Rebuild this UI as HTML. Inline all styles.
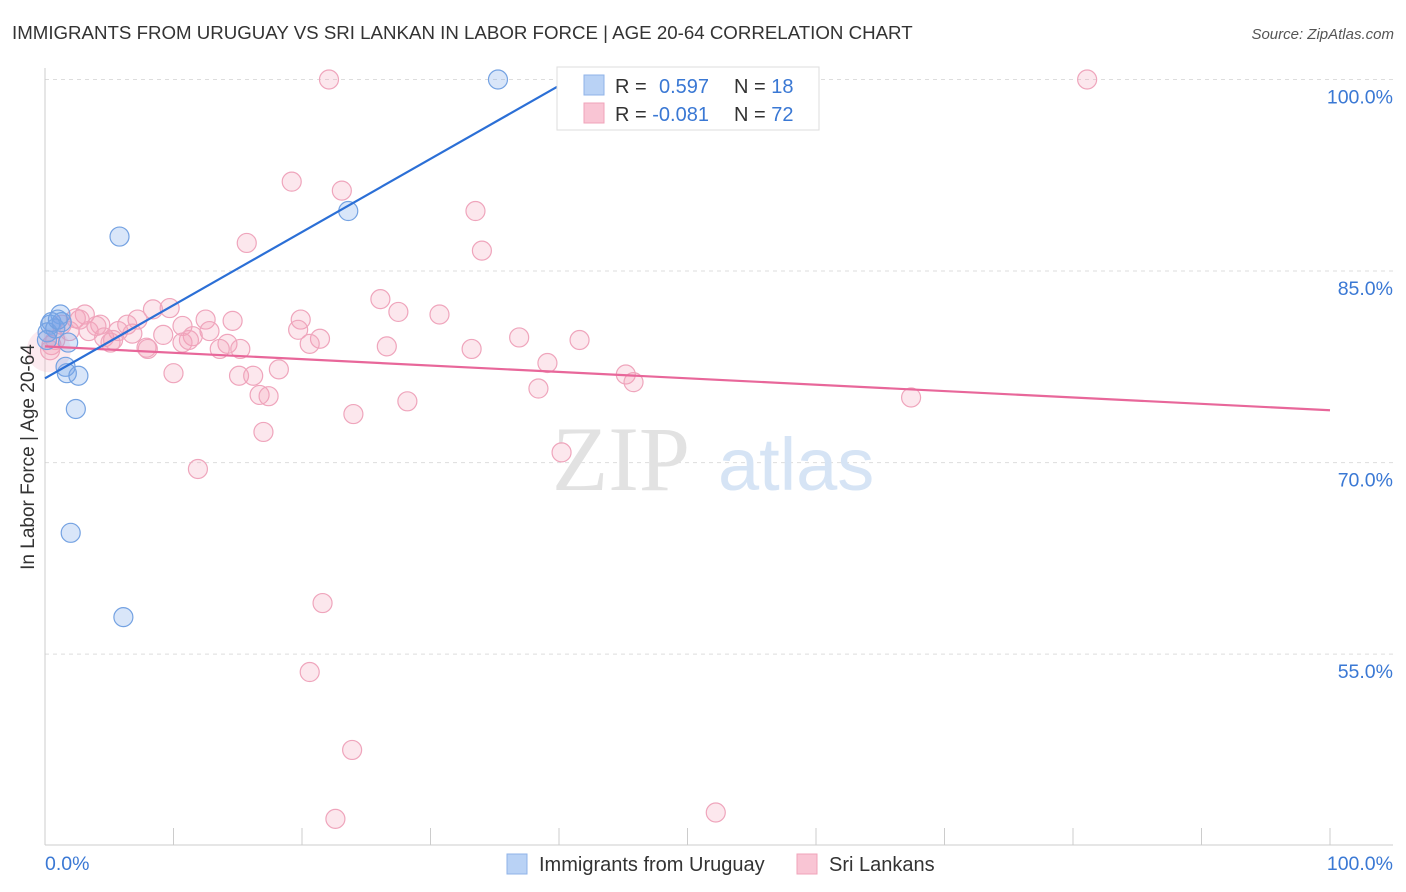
<!DOCTYPE html>
<html><head><meta charset="utf-8"><style>
body{margin:0;background:#fff;font-family:"Liberation Sans",sans-serif;}
svg{display:block}
</style></head><body>
<svg id="chart" width="1406" height="892" xmlns="http://www.w3.org/2000/svg">
<text x="12" y="39" font-size="18.7" fill="#333">IMMIGRANTS FROM URUGUAY VS SRI LANKAN IN LABOR FORCE | AGE 20-64 CORRELATION CHART</text>
<text x="1394" y="39" font-size="15" fill="#555" font-style="italic" text-anchor="end">Source: ZipAtlas.com</text>
<g id="grid"></g>
<text x="690" y="490" font-size="92" font-family="Liberation Serif,serif" fill="#e2e2e2" text-anchor="end">ZIP</text>
<text x="718" y="490" font-size="74" fill="#d6e4f5">atlas</text>
<g id="marks"></g>
<text transform="translate(34,457) rotate(-90)" font-size="19" fill="#333" text-anchor="middle">In Labor Force | Age 20-64</text>
<g>
<rect x="557" y="67" width="262" height="63" fill="#fff" stroke="#ddd"/>
<rect x="584" y="75" width="20" height="20" fill="#b9d2f5" stroke="#8fb3e8"/>
<rect x="584" y="103" width="20" height="20" fill="#f9c5d4" stroke="#f0a3ba"/>
<text x="615" y="93" font-size="20" fill="#333">R = <tspan x="659" fill="#3a78d4">0.597</tspan></text>
<text x="734" y="93" font-size="20" fill="#333">N = <tspan fill="#3a78d4">18</tspan></text>
<text x="615" y="121" font-size="20" fill="#333">R = <tspan fill="#3a78d4">-0.081</tspan></text>
<text x="734" y="121" font-size="20" fill="#333">N = <tspan fill="#3a78d4">72</tspan></text>
</g>
<g>
<rect x="507" y="854" width="20" height="20" fill="#b9d2f5" stroke="#8fb3e8"/>
<text x="539" y="871" font-size="20" fill="#333">Immigrants from Uruguay</text>
<rect x="797" y="854" width="20" height="20" fill="#f9c5d4" stroke="#f0a3ba"/>
<text x="829" y="871" font-size="20" fill="#333">Sri Lankans</text>
</g>
</svg>
<script>
const yTicks=[100,85,70,55];
const yTickLabels=["100.0%","85.0%","70.0%","55.0%"];
const xTickCount=10;
const xEndLabels=["0.0%","100.0%"];
const blueX=[35.25,23.6,5.8,1.2,0.5,0.8,0.4,1.3,1.8,1.6,1.7,2.6,2.4,2.0,6.1,0.2,1.0,0.15];
const blueY=[100.0,89.7,87.7,81.6,81.0,80.5,80.8,81.0,79.4,77.5,77.0,76.8,74.2,64.5,57.9,80.2,81.2,79.6];
const pinkX=[22.1,81.1,19.2,23.1,33.5,15.7,34.0,26.1,27.5,30.7,9.7,8.4,3.1,2.4,7.2,12.5,14.6,19.9,4.3,6.4,10.7,1.3,19.7,3.4,5.7,12.8,9.2,11.5,4.6,6.8,36.9,41.6,21.4,10.7,11.2,14.2,20.6,26.6,5.1,7.9,33.2,13.6,0.5,39.1,18.2,10.0,15.1,16.2,45.2,45.8,38.4,16.7,17.4,28.2,67.4,24.0,17.0,40.2,11.9,21.6,20.6,23.9,22.6,52.2,0.8,1.9,4.0,8.0,15.2,5.3,2.7,0.4];
const pinkY=[100.0,100.0,92.0,91.3,89.7,87.2,86.6,82.8,81.8,81.6,82.1,82.0,81.6,81.3,81.2,81.2,81.1,81.2,80.8,80.8,80.7,80.8,80.4,80.3,80.3,80.3,80.0,79.9,79.8,80.1,79.8,79.6,79.7,79.4,79.6,79.3,79.3,79.1,79.4,79.0,78.9,78.9,79.2,77.8,77.3,77.0,76.8,76.8,76.9,76.3,75.8,75.3,75.2,74.8,75.1,73.8,72.4,70.8,69.5,59.0,53.6,47.5,42.1,42.6,79.6,80.3,80.7,78.9,78.9,79.6,81.2,78.8];
const blueTrend=[0,76.6,40.5,99.8];
const pinkTrend=[0,79.1,100,74.1];

const NS="http://www.w3.org/2000/svg";
const X0=45,X1=1330,YTOP=79.5,PPU=12.77;
const xs=v=>X0+v/100*(X1-X0);
const ys=v=>YTOP+(100-v)*PPU;
function mk(tag,attrs,parent){const e=document.createElementNS(NS,tag);for(const k in attrs)e.setAttribute(k,attrs[k]);parent.appendChild(e);return e;}
const grid=document.getElementById('grid'),marks=document.getElementById('marks');
yTicks.forEach((t,i)=>{
 const l=mk('line',{x1:X0,x2:1393,y1:ys(t),y2:ys(t),stroke:'#ddd','stroke-dasharray':'4,4'},grid);
 
 
 const tx=mk('text',{x:1393,y:ys(t)+24,'font-size':19.5,fill:'#3a78d4','text-anchor':'end'},grid);
 tx.textContent=yTickLabels[i];
 
 
});
const ax=mk('line',{x1:X0,x2:X0,y1:68,y2:845,stroke:'#ccc'},grid);


const bx=mk('line',{x1:X0,x2:1393,y1:845,y2:845,stroke:'#ccc'},grid);


for(let i=1;i<=xTickCount;i++){
 const x=xs(i*100/xTickCount);
 const t=mk('line',{x1:x,x2:x,y1:828,y2:845,stroke:'#ccc'},grid);
 
 
}
const xl0=mk('text',{x:45,y:870,'font-size':19.5,fill:'#3a78d4'},grid);xl0.textContent=xEndLabels[0];


const xl1=mk('text',{x:1393,y:870,'font-size':19.5,fill:'#3a78d4','text-anchor':'end'},grid);xl1.textContent=xEndLabels[1];



const blob=mk('circle',{cx:xs(0.3),cy:ys(78.8),r:22,fill:'rgba(244,170,190,0.25)'},marks);


pinkX.forEach((v,i)=>{
 const c=mk('circle',{cx:xs(v),cy:ys(pinkY[i]),r:9.5,fill:'rgba(244,160,185,0.25)',stroke:'#efa5bc','stroke-width':1.2},marks);
 
 
});
blueX.forEach((v,i)=>{
 const c=mk('circle',{cx:xs(v),cy:ys(blueY[i]),r:9.5,fill:'rgba(120,165,235,0.28)',stroke:'#74a2e2','stroke-width':1.2},marks);
 
 
});
const pl=mk('line',{x1:xs(pinkTrend[0]),y1:ys(pinkTrend[1]),x2:xs(pinkTrend[2]),y2:ys(pinkTrend[3]),stroke:'#e8679a','stroke-width':2.2},marks);


const bl=mk('line',{x1:xs(blueTrend[0]),y1:ys(blueTrend[1]),x2:xs(blueTrend[2]),y2:ys(blueTrend[3]),stroke:'#2b6fd6','stroke-width':2.2},marks);


</script>
</body></html>
